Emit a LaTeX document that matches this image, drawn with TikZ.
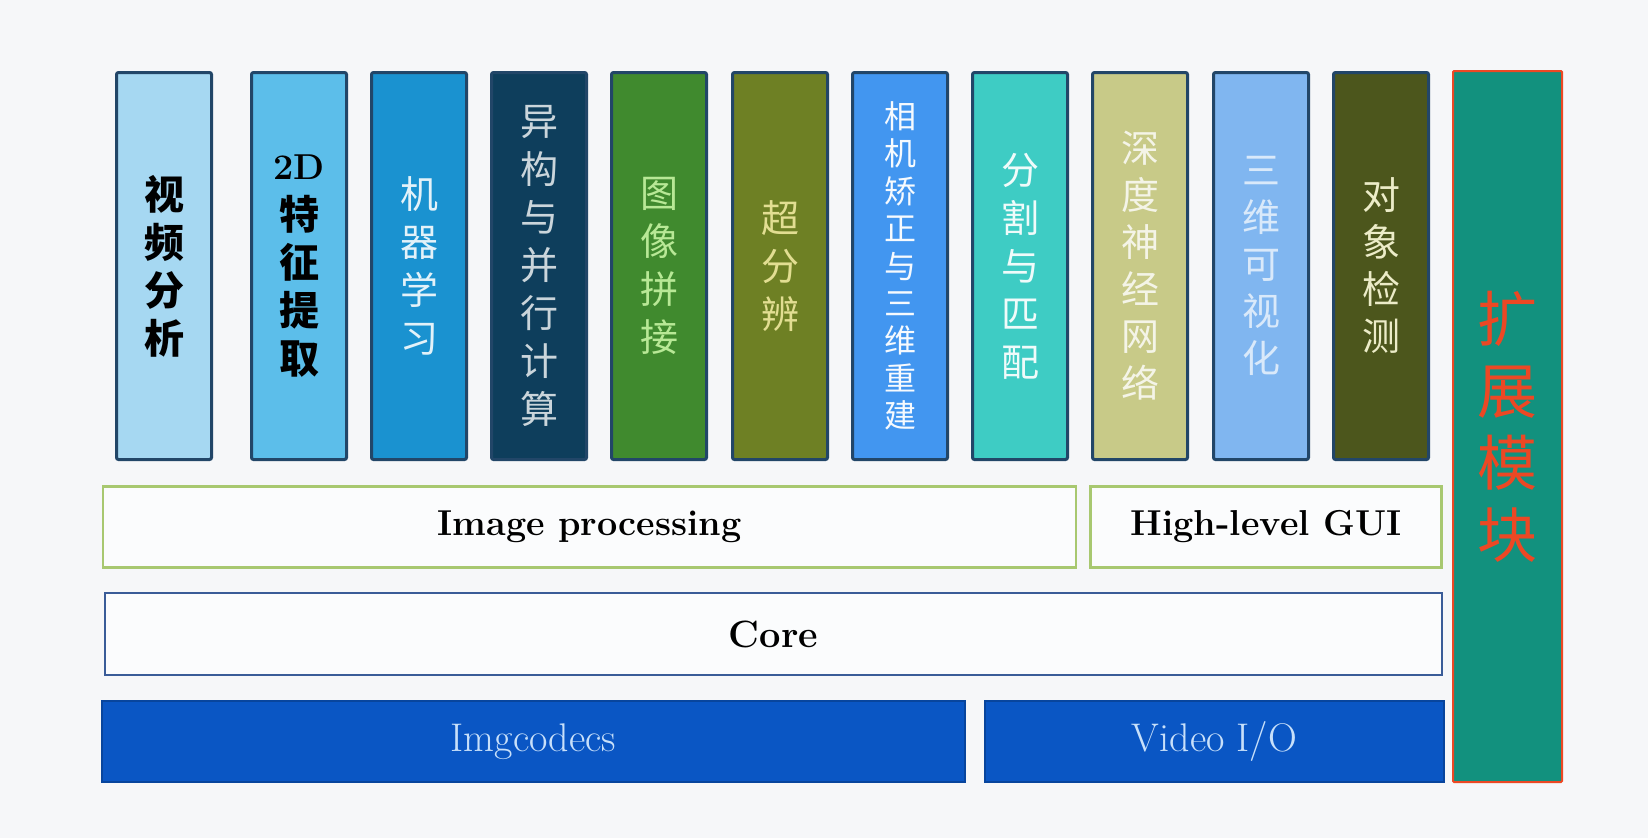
\documentclass[tikz,border=0pt]{standalone}
\usepackage{fontspec}
\newfontfamily\cjk{Noto Sans CJK SC}
\definecolor{bgwhite}{RGB}{246, 247, 249}
\definecolor{boxline}{RGB}{34, 70, 104}
\definecolor{col1}{RGB}{166, 216, 242}
\definecolor{col2}{RGB}{92, 190, 234}
\definecolor{col3}{RGB}{26, 146, 208}
\definecolor{col4}{RGB}{14, 62, 92}
\definecolor{col5}{RGB}{64, 138, 46}
\definecolor{col6}{RGB}{110, 128, 36}
\definecolor{col7}{RGB}{66, 150, 240}
\definecolor{col8}{RGB}{62, 204, 196}
\definecolor{col9}{RGB}{200, 202, 136}
\definecolor{col10}{RGB}{128, 182, 240}
\definecolor{col11}{RGB}{76, 86, 28}
\definecolor{extteal}{RGB}{18, 145, 126}
\definecolor{extred}{RGB}{236, 72, 36}
\definecolor{procgreen}{RGB}{168, 200, 112}
\definecolor{coreblue}{RGB}{58, 92, 152}
\definecolor{iofill}{RGB}{10, 86, 196}
\definecolor{iotext}{RGB}{200, 224, 250}

\tikzset{
  modbox/.style={draw=boxline, line width=3pt, rounded corners=2pt,
    minimum width=95pt, minimum height=387pt, inner sep=0pt, align=center,
    font=\cjk\fontsize{38}{48}\selectfont},
  layerbox/.style={line width=2.5pt, inner sep=0pt, minimum height=81pt,
    font=\fontsize{40}{40}\selectfont}
}

\begin{document}
\begin{tikzpicture}[x=1pt, y=-1pt]
    % Background
    \fill[bgwhite] (0,0) rectangle (1648,838);
    \useasboundingbox (0,0) rectangle (1648,838);

    % Module columns
    \node[modbox, fill=col1, text=black, font=\cjk\bfseries\fontsize{40}{48}\selectfont] (video) at (164,266) {视\\频\\分\\析};
    \node[modbox, fill=col2, text=black, font=\cjk\bfseries\fontsize{40}{48}\selectfont] (feat2d) at (299,266) {{\rmfamily\bfseries\fontsize{36}{36}\selectfont 2D}\\[2pt]特\\征\\提\\取};
    \node[modbox, fill=col3, text=white!88!col3] (ml) at (419,266) {机\\器\\学\\习};
    \node[modbox, fill=col4, text=white!78!col4] (hetero) at (539,266) {异\\构\\与\\并\\行\\计\\算};
    \node[modbox, fill=col5, text={rgb,255:red,184;green,232;blue,150}] (stitch) at (659,266) {图\\像\\拼\\接};
    \node[modbox, fill=col6, text={rgb,255:red,226;green,222;blue,146}] (superres) at (780,266) {超\\分\\辨};
    \node[modbox, fill=col7, text=white!95!col7, font=\cjk\fontsize{32}{37.4}\selectfont] (calib) at (900,266) {相\\机\\矫\\正\\与\\三\\维\\重\\建};
    \node[modbox, fill=col8, text=white!92!col8] (segment) at (1020,266) {分\\割\\与\\匹\\配};
    \node[modbox, fill=col9, text=white!80!col9, font=\cjk\fontsize{38}{47}\selectfont] (dnn) at (1140,266) {深\\度\\神\\经\\网\\络};
    \node[modbox, fill=col10, text=white!70!col10, font=\cjk\fontsize{38}{47}\selectfont] (viz3d) at (1261,266) {三\\维\\可\\视\\化};
    \node[modbox, fill=col11, text={rgb,255:red,236;green,236;blue,200}, font=\cjk\fontsize{38}{47}\selectfont] (objdet) at (1381,266) {对\\象\\检\\测};

    % Extension modules
    \node[draw=extred, line width=2pt, rounded corners=1pt, fill=extteal, text=extred,
      minimum width=109pt, minimum height=711pt, inner sep=0pt, align=center,
      font=\cjk\fontsize{60}{72}\selectfont] (extmod) at (1507.5,426.5) {扩\\展\\模\\块};

    % Layers
    \node[layerbox, draw=procgreen, fill=white!60!bgwhite, minimum width=973pt] (imgproc) at (589.5,527) {\bfseries\fontsize{36}{36}\selectfont Image processing};
    \node[layerbox, draw=procgreen, fill=white!60!bgwhite, minimum width=351pt] (highgui) at (1266,527) {\bfseries\fontsize{36}{36}\selectfont High-level GUI};
    \node[layerbox, draw=coreblue, fill=white!60!bgwhite, minimum width=1337pt, minimum height=82pt] (core) at (773.5,634) {\bfseries\fontsize{38}{38}\selectfont Core};
    \node[layerbox, draw=iofill!80!black, fill=iofill, text=iotext, minimum width=863pt] (imgcodecs) at (533.5,741.5) {Imgcodecs};
    \node[layerbox, draw=iofill!80!black, fill=iofill, text=iotext, minimum width=459pt] (videoio) at (1214.5,741.5) {Video I/O};
\end{tikzpicture}
\end{document}
